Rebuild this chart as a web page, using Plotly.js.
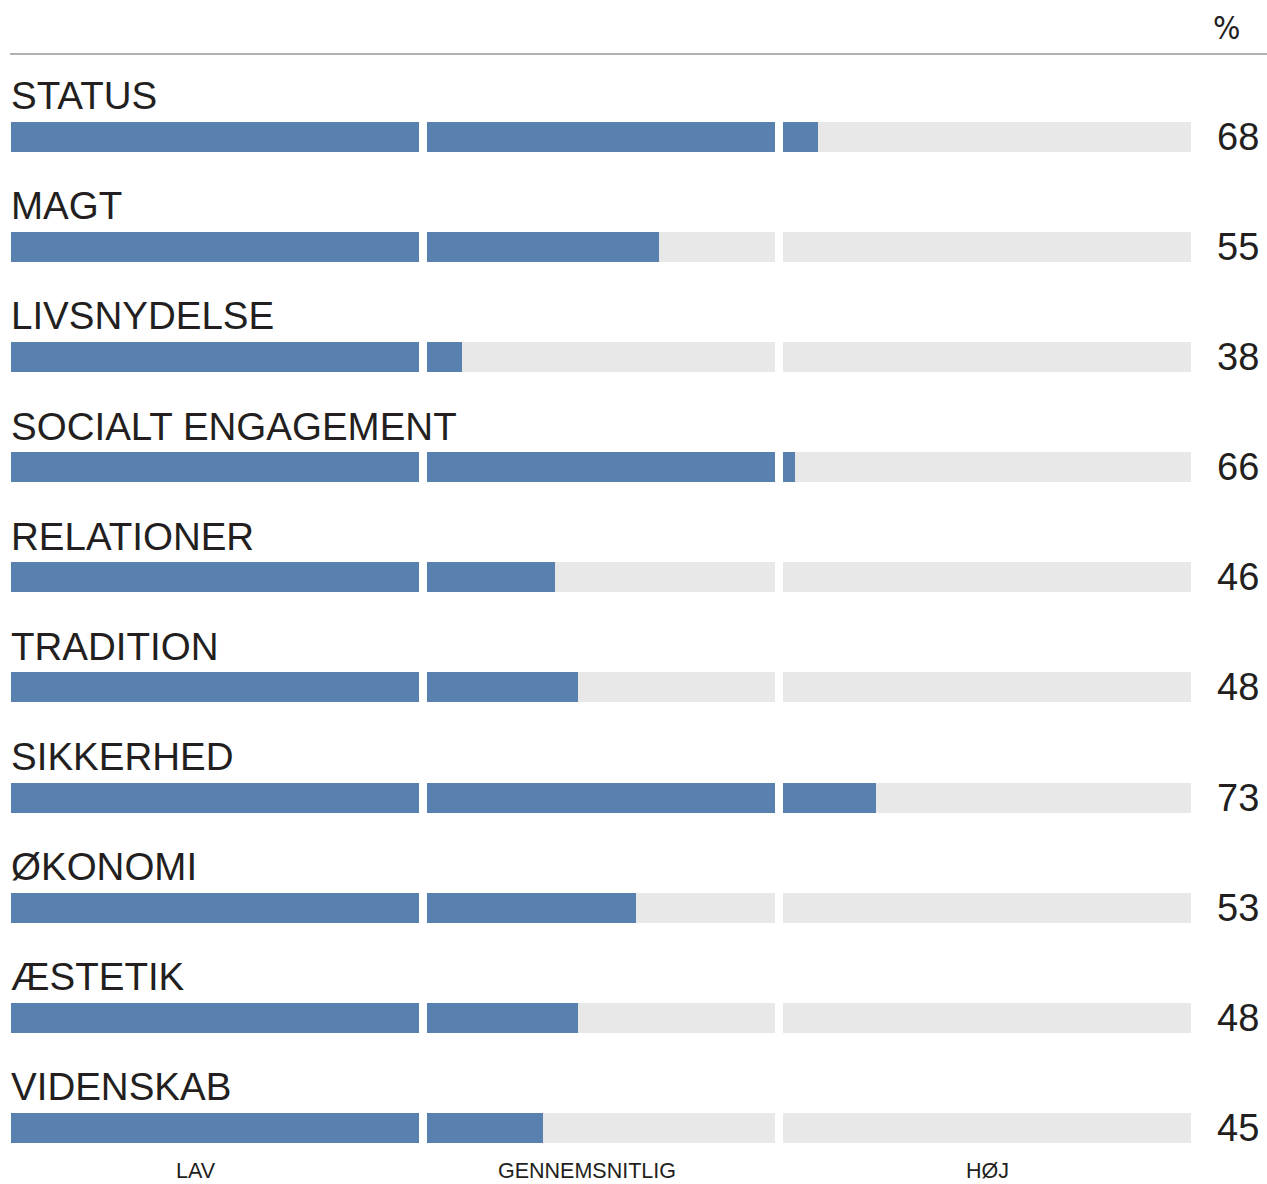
<!DOCTYPE html>
<html>
<head>
<meta charset="utf-8">
<script src="https://cdn.plot.ly/plotly-3.0.1.min.js"></script>
<style>html,body{margin:0;padding:0;background:#fff;}#chart{width:1267px;height:1184px;}</style>
</head>
<body>
<div id="chart"></div>
<script>
const categories = ["STATUS","MAGT","LIVSNYDELSE","SOCIALT ENGAGEMENT","RELATIONER","TRADITION","SIKKERHED","ØKONOMI","ÆSTETIK","VIDENSKAB"];
const values = [68,55,38,66,46,48,73,53,48,45];
const segmentBounds = [0,35,65,100];
const segmentLabels = ["LAV","GENNEMSNITLIG","HØJ"];
const unitLabel = "%";

const BLUE = "#5881b0", GREY = "#e8e8e8", TXT = "#231f20";
const FONT = "Liberation Sans, Arial, Helvetica, sans-serif";
const rows = categories.map((c,i)=>i);
const W = 1256;
const domains = [[0, 408/W],[416/W, 764/W],[772/W, 1180/W]];
const axNames = ["x","x2","x3"];
const barW = 0.2725;

const traces = [];
for (let s=0; s<3; s++) {
  const lo = segmentBounds[s], hi = segmentBounds[s+1];
  traces.push({type:"bar", orientation:"h", xaxis:axNames[s], yaxis:"y",
    y: rows, x: rows.map(()=>hi-lo), base: lo, width: barW,
    marker:{color:GREY, line:{width:0}}, hoverinfo:"skip", showlegend:false});
  traces.push({type:"bar", orientation:"h", xaxis:axNames[s], yaxis:"y",
    y: rows, x: values.map(v=>Math.max(0, Math.min(v,hi)-lo)), base: lo, width: barW,
    marker:{color:BLUE, line:{width:0}}, showlegend:false});
}

const annotations = [];
categories.forEach((c,i)=>{
  annotations.push({xref:"paper", yref:"y", x:0, y:i-0.375, xanchor:"left", yanchor:"middle",
    text:c, showarrow:false, xshift:-2, font:{family:FONT, size:38.5, color:TXT}});
  annotations.push({xref:"paper", yref:"y", x:(1237.5-11)/W, y:i, xanchor:"center", yanchor:"middle",
    text:String(values[i]), showarrow:false, font:{family:FONT, size:38, color:TXT}});
});
const segLabelX = [(196-11)/W, (587-11)/W, (987.5-11)/W];
segmentLabels.forEach((t,s)=>{
  annotations.push({xref:"paper", yref:"y", x:segLabelX[s], y:9.395, xanchor:"center", yanchor:"middle",
    text:t, showarrow:false, font:{family:FONT, size:21.5, color:TXT}});
});
annotations.push({xref:"paper", yref:"y", x:(1226-11)/W, y:-0.99, xanchor:"center", yanchor:"middle",
  text:unitLabel, showarrow:false, font:{family:"DejaVu Sans Condensed, Liberation Sans Narrow, "+FONT, size:32, color:TXT}});

const axisBase = {showgrid:false, zeroline:false, showticklabels:false, ticks:"", showline:false, fixedrange:true, anchor:"y"};
const layout = {
  width:1267, height:1184,
  margin:{l:11, r:0, t:0, b:0, pad:0},
  paper_bgcolor:"#fff", plot_bgcolor:"#fff",
  barmode:"overlay", bargap:0,
  showlegend:false,
  xaxis: Object.assign({}, axisBase, {domain:domains[0], range:[segmentBounds[0],segmentBounds[1]]}),
  xaxis2: Object.assign({}, axisBase, {domain:domains[1], range:[segmentBounds[1],segmentBounds[2]]}),
  xaxis3: Object.assign({}, axisBase, {domain:domains[2], range:[segmentBounds[2],segmentBounds[3]]}),
  yaxis: {range:[9.5097, -1.2443], showgrid:false, zeroline:false, showticklabels:false, ticks:"", showline:false, fixedrange:true, domain:[0,1]},
  shapes:[{type:"line", xref:"paper", yref:"y", x0:-1/W, x1:1, y0:-0.7539, y1:-0.7539, line:{color:"#999999", width:1.5}}],
  annotations: annotations
};
Plotly.newPlot("chart", traces, layout, {displayModeBar:false, staticPlot:true});
</script>
</body>
</html>
